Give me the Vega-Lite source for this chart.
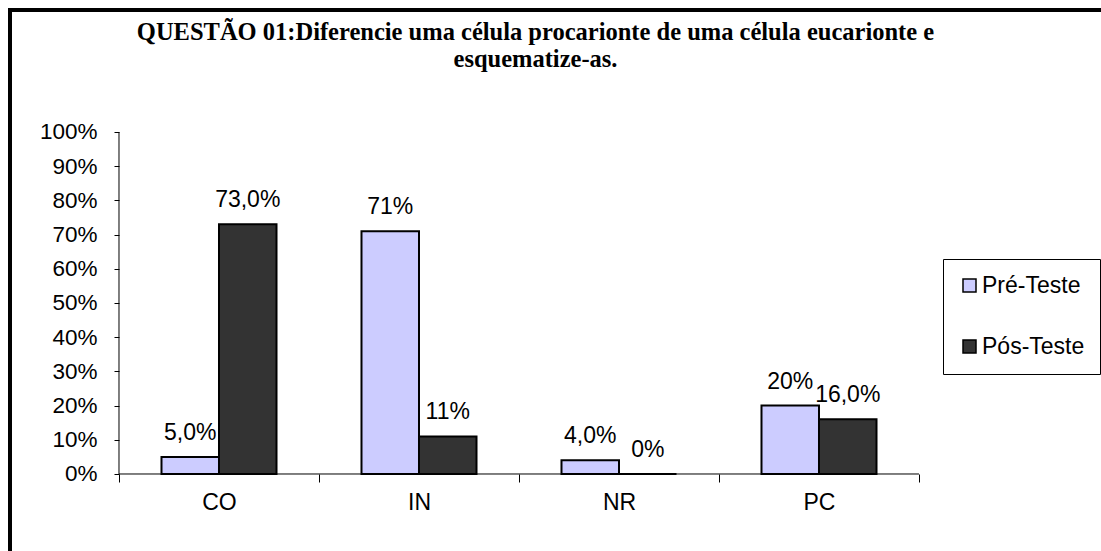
{
  "$schema": "https://vega.github.io/schema/vega-lite/v6.json",
  "width": 1091,
  "height": 541,
  "autosize": {"type": "none"},
  "padding": {"left": 10, "top": 10, "right": 0, "bottom": 0},
  "background": "white",
  "view": {"stroke": "black", "strokeWidth": 4, "strokeDash": [1091, 1632, 541, 0], "strokeCap": "square", "fill": "white"},
  "title": {
    "text": ["QUESTÃO 01:Diferencie uma célula procarionte de uma célula eucarionte e", "esquematize-as."],
    "font": "Liberation Serif",
    "fontSize": 24.5,
    "fontWeight": "bold",
    "color": "black",
    "anchor": "middle",
    "frame": "group",
    "baseline": "top",
    "offset": -62,
    "lineHeight": 27,
    "dx": -20
  },
  "data": {
    "values": [
      {"cat": "CO", "serie": "Pré-Teste", "value": 0.05, "label": "5,0%"},
      {"cat": "CO", "serie": "Pós-Teste", "value": 0.73, "label": "73,0%"},
      {"cat": "IN", "serie": "Pré-Teste", "value": 0.71, "label": "71%"},
      {"cat": "IN", "serie": "Pós-Teste", "value": 0.11, "label": "11%"},
      {"cat": "NR", "serie": "Pré-Teste", "value": 0.04, "label": "4,0%"},
      {"cat": "NR", "serie": "Pós-Teste", "value": 0.0, "label": "0%"},
      {"cat": "PC", "serie": "Pré-Teste", "value": 0.20, "label": "20%"},
      {"cat": "PC", "serie": "Pós-Teste", "value": 0.16, "label": "16,0%"}
    ]
  },
  "layer": [
    {
      "mark": {"type": "bar", "stroke": "black", "strokeWidth": 2},
      "encoding": {
        "x": {
          "field": "cat", "type": "nominal",
          "scale": {"paddingInner": 0, "paddingOuter": 0.7275, "align": 0.37457},
          "axis": {
            "orient": "bottom", "offset": -77, "tickBand": "extent", "domain": false,
            "tickSize": 8, "tickColor": "black", "tickWidth": 1,
            "labelPadding": 9, "labelFontSize": 23, "labelFont": "Liberation Sans",
            "labelColor": "black", "labelAngle": 0, "title": null, "grid": false
          }
        },
        "xOffset": {
          "field": "serie", "type": "nominal", "sort": ["Pré-Teste", "Pós-Teste"],
          "scale": {"paddingInner": 0, "paddingOuter": 0.739}
        },
        "y": {
          "field": "value", "type": "quantitative",
          "scale": {"domain": [-0.22515, 1.35672], "nice": false, "zero": false},
          "axis": {
            "orient": "left", "offset": -109,
            "values": [0, 0.1, 0.2, 0.3, 0.4, 0.5, 0.6, 0.7, 0.8, 0.9, 1],
            "format": ".0%", "domain": false, "grid": false,
            "tickSize": 5, "tickColor": "black", "tickWidth": 1,
            "labelPadding": 17, "labelFontSize": 22.5, "labelFont": "Liberation Sans",
            "labelColor": "black", "labelOverlap": false, "labelFlush": false, "title": null
          }
        },
        "color": {
          "field": "serie", "type": "nominal",
          "scale": {"domain": ["Pré-Teste", "Pós-Teste"], "range": ["#CCCCFF", "#333333"]},
          "legend": {
            "orient": "none", "legendX": 933, "legendY": 249, "title": null,
            "strokeColor": "black", "fillColor": "white", "padding": 15,
            "symbolType": "square", "symbolSize": 169, "symbolStrokeColor": "black",
            "symbolStrokeWidth": 1.5, "labelFontSize": 23, "labelFont": "Liberation Sans",
            "labelColor": "black", "rowPadding": 37, "labelOffset": 1
          }
        }
      }
    },
    {
      "mark": {"type": "text", "dy": -17, "baseline": "alphabetic", "fontSize": 23, "font": "Liberation Sans", "color": "black"},
      "encoding": {
        "x": {"field": "cat", "type": "nominal"},
        "xOffset": {"field": "serie", "type": "nominal", "sort": ["Pré-Teste", "Pós-Teste"]},
        "y": {"field": "value", "type": "quantitative"},
        "text": {"field": "label"}
      }
    },
    {
      "data": {"values": [{"k": 1}]},
      "mark": {"type": "rule", "color": "black", "strokeWidth": 1},
      "encoding": {
        "x": {"datum": "CO", "type": "nominal", "bandPosition": 0},
        "y": {"datum": 0, "type": "quantitative"},
        "y2": {"datum": 1}
      }
    },
    {
      "data": {"values": [{"k": 1}]},
      "mark": {"type": "rule", "color": "black", "strokeWidth": 1},
      "encoding": {
        "x": {"datum": "CO", "type": "nominal", "bandPosition": 0},
        "x2": {"datum": "PC", "bandPosition": 1},
        "y": {"datum": 0, "type": "quantitative"}
      }
    }
  ]
}
